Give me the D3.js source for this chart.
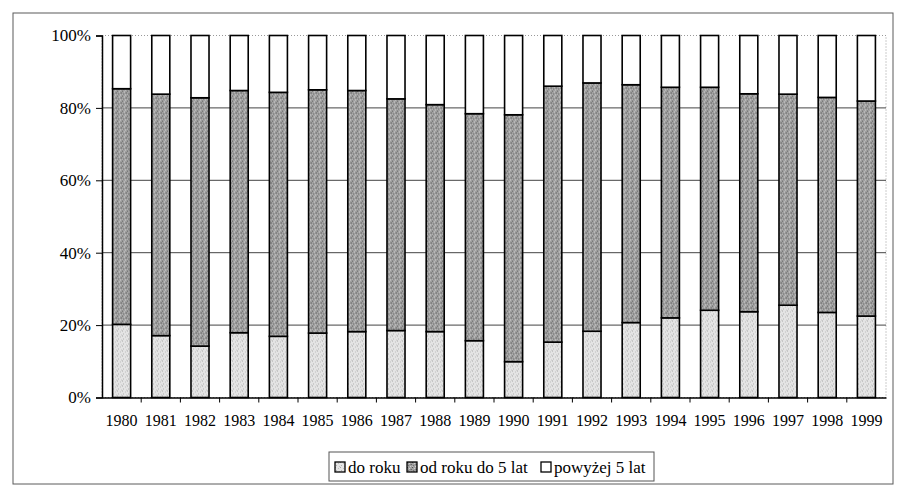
<!DOCTYPE html>
<html>
<head>
<meta charset="utf-8">
<script src="https://cdn.jsdelivr.net/npm/d3@7"></script>
<style>
  body { margin: 0; background: #fff; }
  text { font-family: "Liberation Serif", "Times New Roman", serif; }
</style>
</head>
<body>
<div id="chart"></div>
<script>
const years = ["1980", "1981", "1982", "1983", "1984", "1985", "1986", "1987", "1988", "1989",
               "1990", "1991", "1992", "1993", "1994", "1995", "1996", "1997", "1998", "1999"];
const doRoku = [20.2, 17.1, 14.2, 17.9, 16.9, 17.8, 18.2, 18.5, 18.2, 15.7,
                9.9, 15.3, 18.3, 20.7, 22.0, 24.1, 23.7, 25.5, 23.5, 22.5];
const odRokuDo5 = [65.1, 66.7, 68.6, 66.9, 67.4, 67.2, 66.6, 64.0, 62.7, 62.7,
                   68.2, 70.7, 68.6, 65.7, 63.7, 61.6, 60.2, 58.3, 59.4, 59.4];
const powyzej5 = [14.7, 16.2, 17.2, 15.2, 15.7, 15.0, 15.2, 17.5, 19.1, 21.6,
                  21.9, 14.0, 13.1, 13.6, 14.3, 14.3, 16.1, 16.2, 17.1, 18.1];
const seriesNames = ["do roku", "od roku do 5 lat", "powyżej 5 lat"];
const yTicks = [0, 0.2, 0.4, 0.6, 0.8, 1];

const W = 902, H = 489;
const margin = { top: 35.5, right: 16, bottom: 91.5, left: 102 };
const width = W - margin.left - margin.right;
const height = H - margin.top - margin.bottom;

const svg = d3.select("#chart").append("svg")
    .attr("width", W)
    .attr("height", H);

// Stipple patterns
const defs = svg.append("defs");
function stipple(id, base, dots) {
    const p = defs.append("pattern")
        .attr("id", id)
        .attr("patternUnits", "userSpaceOnUse")
        .attr("width", 5)
        .attr("height", 5);
    p.append("rect").attr("width", 5).attr("height", 5).attr("fill", base);
    dots.forEach(d => {
        p.append("rect")
            .attr("x", d[0]).attr("y", d[1])
            .attr("width", 1).attr("height", 1)
            .attr("fill", d[2]);
    });
}
stipple("light", "#e4e4e4", [[0, 0, "#a8a8a8"], [3, 1, "#bdbdbd"], [1, 3, "#b0b0b0"], [4, 4, "#c4c4c4"]]);
stipple("dark", "#a0a0a0", [[0, 0, "#555"], [2, 1, "#d0d0d0"], [4, 2, "#656565"], [1, 3, "#727272"],
                            [3, 4, "#cfcfcf"], [3, 2, "#848484"], [0, 4, "#c0c0c0"]]);
const fills = ["url(#light)", "url(#dark)", "#fff"];

// Outer frame
svg.append("rect")
    .attr("x", 13).attr("y", 13)
    .attr("width", 880).attr("height", 471)
    .attr("fill", "none")
    .attr("stroke", "#5a5a5a")
    .attr("stroke-width", 1);

const g = svg.append("g")
    .attr("transform", `translate(${margin.left},${margin.top})`);

// Scales
const x = d3.scaleBand()
    .domain(years)
    .range([0, width])
    .paddingInner(0.54)
    .paddingOuter(0.27);

const y = d3.scaleLinear()
    .domain([0, 1])
    .range([height, 0]);

// Plot area border (dotted)
g.append("rect")
    .attr("width", width)
    .attr("height", height)
    .attr("fill", "none")
    .attr("stroke", "#999")
    .attr("stroke-dasharray", "1 2");

// Gridlines
g.append("g")
    .selectAll("line")
    .data(yTicks.filter(t => t > 0 && t < 1))
    .join("line")
    .attr("x1", 0)
    .attr("x2", width)
    .attr("y1", d => y(d))
    .attr("y2", d => y(d))
    .attr("stroke", "#444")
    .attr("stroke-width", 1);

// Stack
const rows = years.map((yr, i) => ({
    year: yr,
    "do roku": doRoku[i],
    "od roku do 5 lat": odRokuDo5[i],
    "powyżej 5 lat": powyzej5[i]
}));
const stacked = d3.stack()
    .keys(seriesNames)
    .offset(d3.stackOffsetExpand)(rows);

g.append("g")
    .selectAll("g")
    .data(stacked)
    .join("g")
    .attr("fill", (d, i) => fills[i])
    .selectAll("rect")
    .data(d => d)
    .join("rect")
    .attr("x", d => x(d.data.year))
    .attr("y", d => y(d[1]))
    .attr("width", x.bandwidth())
    .attr("height", d => y(d[0]) - y(d[1]))
    .attr("stroke", "#000")
    .attr("stroke-width", 1.6);

// Axes
const yAxis = g.append("g")
    .attr("font-family", "'Liberation Serif', serif")
    .call(d3.axisLeft(y).tickValues(yTicks).tickFormat(d3.format(".0%")).tickSize(6).tickPadding(5));
yAxis.select(".domain").attr("stroke", "#000").attr("stroke-width", 1.5);
yAxis.selectAll(".tick line").attr("stroke", "#000");
yAxis.selectAll("text")
    .attr("font-size", 17)
    .attr("fill", "#000")
    .style("font-family", "'Liberation Serif', serif");

const xAxis = g.append("g")
    .attr("transform", `translate(0,${height})`)
    .call(d3.axisBottom(x).tickSize(0).tickPadding(17));
xAxis.select(".domain").attr("stroke", "#000").attr("stroke-width", 1.5);
xAxis.selectAll("text")
    .attr("font-size", 16)
    .attr("fill", "#000")
    .style("font-family", "'Liberation Serif', serif");

// category boundary ticks
const step = x.step();
xAxis.append("g")
    .selectAll("line")
    .data(years.slice(1))
    .join("line")
    .attr("x1", d => x(d) - step * x.paddingInner() / 2)
    .attr("x2", d => x(d) - step * x.paddingInner() / 2)
    .attr("y1", 0)
    .attr("y2", 5)
    .attr("stroke", "#000");

// Legend
const legend = svg.append("g").attr("transform", "translate(329,452)");
legend.append("rect")
    .attr("width", 325)
    .attr("height", 29)
    .attr("fill", "#fff")
    .attr("stroke", "#555");

const legendX = [6, 78, 212];
const item = legend.selectAll("g.item")
    .data(seriesNames)
    .join("g")
    .attr("class", "item")
    .attr("transform", (d, i) => `translate(${legendX[i]},0)`);
item.append("rect")
    .attr("y", 10)
    .attr("width", 10)
    .attr("height", 10)
    .attr("fill", (d, i) => fills[i])
    .attr("stroke", "#000")
    .attr("stroke-width", 1.3);
item.append("text")
    .attr("x", 13)
    .attr("y", 20.5)
    .attr("font-size", 17)
    .attr("fill", "#000")
    .text(d => d);
</script>
</body>
</html>
